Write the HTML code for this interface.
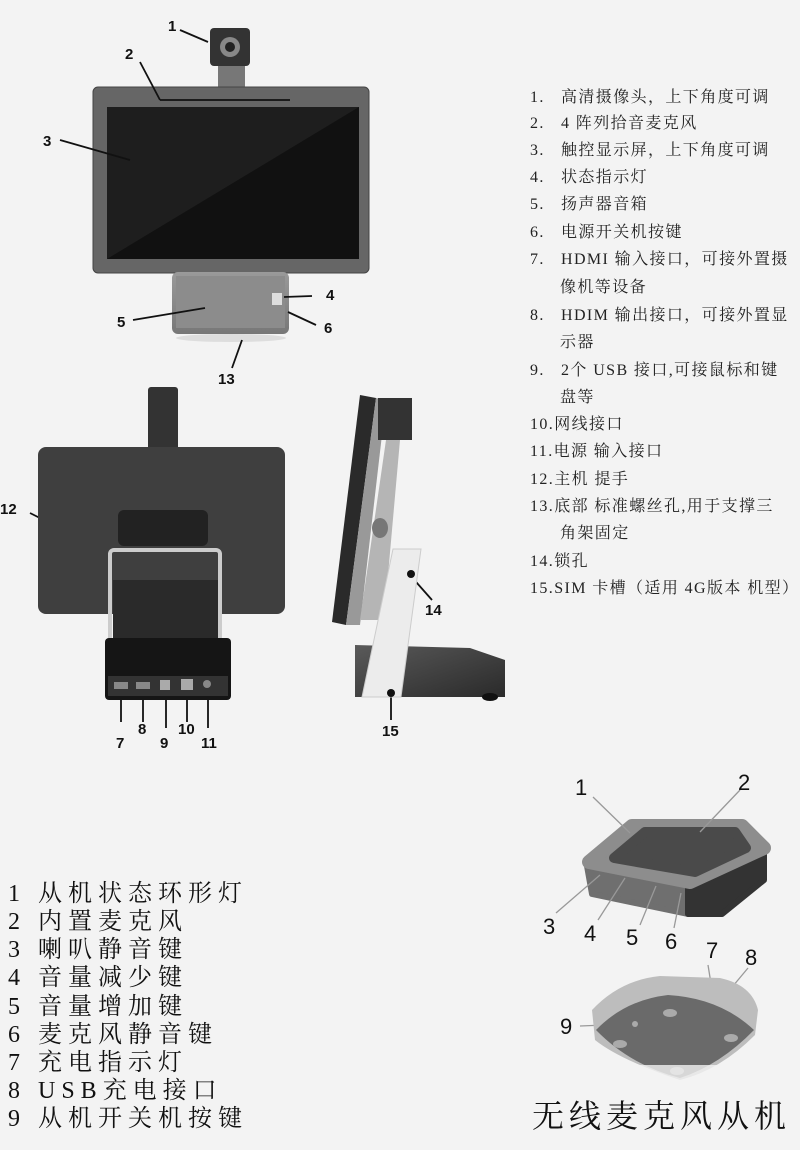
<!DOCTYPE html>
<html><head><meta charset="utf-8"><style>
body{margin:0;width:800px;height:1150px;background:#f3f3f3;position:relative;overflow:hidden}
.r{position:absolute;font-family:"Liberation Serif","Noto Serif CJK SC",serif;font-size:16px;letter-spacing:1.4px;color:#222;white-space:nowrap}
.l{position:absolute;left:8px;font-family:"Liberation Serif","Noto Serif CJK SC",serif;font-size:24px;color:#111;white-space:nowrap;letter-spacing:6px}
svg{position:absolute;left:0;top:0}
</style></head><body>
<svg width="800" height="1150" font-family="Liberation Sans,sans-serif">
<defs>
<linearGradient id="sp" x1="0" y1="0" x2="0" y2="1"><stop offset="0" stop-color="#9a9a9a"/><stop offset="1" stop-color="#777"/></linearGradient>
<linearGradient id="bk" x1="0" y1="0" x2="1" y2="1"><stop offset="0" stop-color="#5a5a5a"/><stop offset="1" stop-color="#2a2a2a"/></linearGradient>
</defs>
<rect x="218" y="60" width="27" height="30" fill="#777"/>
<rect x="210" y="28" width="40" height="38" rx="4" fill="#333"/>
<circle cx="230" cy="47" r="10" fill="#888"/><circle cx="230" cy="47" r="5" fill="#222"/>
<rect x="93" y="87" width="276" height="186" rx="5" fill="#666" stroke="#444"/>
<rect x="107" y="107" width="252" height="152" fill="#111"/>
<polygon points="107,107 359,107 107,259" fill="#1e1e1e"/>
<rect x="172" y="272" width="117" height="62" rx="6" fill="url(#sp)"/>
<rect x="176" y="276" width="109" height="52" fill="#8c8c8c"/>
<rect x="272" y="293" width="10" height="12" fill="#ddd"/>
<ellipse cx="231" cy="338" rx="55" ry="4" fill="#ddd"/>
<g stroke="#111" stroke-width="1.8" fill="none">
<line x1="180" y1="30" x2="208" y2="42"/>
<line x1="140" y1="62" x2="160" y2="100"/>
<line x1="160" y1="100" x2="290" y2="100"/>
<line x1="60" y1="140" x2="130" y2="160"/>
<line x1="133" y1="320" x2="205" y2="308"/>
<line x1="312" y1="296" x2="284" y2="297"/>
<line x1="316" y1="325" x2="288" y2="312"/>
<line x1="232" y1="368" x2="242" y2="340"/>
<line x1="30" y1="513" x2="117" y2="557"/>
<line x1="121" y1="698" x2="121" y2="722"/><line x1="143" y1="698" x2="143" y2="722"/>
<line x1="166" y1="698" x2="166" y2="728"/><line x1="187" y1="698" x2="187" y2="722"/><line x1="208" y1="698" x2="208" y2="728"/>
<line x1="409" y1="574" x2="432" y2="600"/>
<line x1="391" y1="692" x2="391" y2="720"/>
</g>
<g font-weight="bold" font-size="15" fill="#111">
<text x="168" y="31">1</text><text x="125" y="59">2</text><text x="43" y="146">3</text>
<text x="326" y="300">4</text><text x="117" y="327">5</text><text x="324" y="333">6</text><text x="218" y="384">13</text>
<text x="0" y="514">12</text>
<text x="116" y="748">7</text><text x="138" y="734">8</text><text x="160" y="748">9</text><text x="178" y="734">10</text><text x="201" y="748">11</text>
<text x="425" y="615">14</text><text x="382" y="736">15</text>
</g>
<rect x="148" y="387" width="30" height="85" rx="3" fill="#333"/>
<rect x="38" y="447" width="247" height="167" rx="8" fill="#3f3f3f"/>
<rect x="118" y="510" width="90" height="36" rx="6" fill="#222"/>
<rect x="110" y="550" width="110" height="135" rx="4" fill="none" stroke="#ccc" stroke-width="4"/>
<rect x="113" y="580" width="105" height="65" fill="#2a2a2a"/>
<rect x="105" y="638" width="126" height="62" rx="4" fill="#151515"/>
<rect x="108" y="676" width="120" height="20" fill="#333"/>
<rect x="114" y="682" width="14" height="7" fill="#888"/><rect x="136" y="682" width="14" height="7" fill="#888"/>
<rect x="160" y="680" width="10" height="10" fill="#aaa"/><rect x="181" y="679" width="12" height="11" fill="#aaa"/><circle cx="207" cy="684" r="4" fill="#888"/>
<polygon points="360,395 376,398 346,625 332,622" fill="#2a2a2a"/>
<polygon points="376,398 386,400 360,625 346,625" fill="#999"/>
<rect x="378" y="398" width="34" height="42" fill="#333"/>
<polygon points="386,440 400,440 384,620 360,620" fill="#b5b5b5"/>
<ellipse cx="380" cy="528" rx="8" ry="10" fill="#777"/>
<polygon points="355,645 470,648 505,660 505,697 355,697" fill="url(#bk)"/>
<polygon points="393,549 421,549 401,697 362,697" fill="#ececec" stroke="#ccc"/>
<circle cx="411" cy="574" r="4" fill="#111"/><circle cx="391" cy="693" r="4" fill="#111"/>
<ellipse cx="490" cy="697" rx="8" ry="4" fill="#111"/>
<g stroke-linejoin="round">
<polygon points="587,866 688,884 688,914 592,894" fill="#6f6f6f" stroke="#6f6f6f" stroke-width="6"/>
<polygon points="688,884 764,850 764,880 722,914 688,914" fill="#333" stroke="#333" stroke-width="6"/>
<polygon points="589,862 632,826 742,826 764,848 690,882" fill="#8d8d8d" stroke="#8d8d8d" stroke-width="14"/>
<polygon points="614,858 645,832 735,832 746,848 695,872" fill="#4a4a4a" stroke="#4a4a4a" stroke-width="10"/>
</g>
<g stroke="#999" stroke-width="1.3"><line x1="593" y1="797" x2="630" y2="833"/><line x1="740" y1="790" x2="700" y2="832"/>
<line x1="556" y1="913" x2="600" y2="875"/><line x1="598" y1="920" x2="625" y2="878"/><line x1="640" y1="925" x2="656" y2="886"/><line x1="674" y1="928" x2="681" y2="893"/>
<line x1="708" y1="965" x2="713" y2="996"/><line x1="748" y1="968" x2="723" y2="998"/><line x1="580" y1="1026" x2="630" y2="1024"/></g>
<g font-size="22" fill="#111"><text x="575" y="795">1</text><text x="738" y="790">2</text><text x="543" y="934">3</text><text x="584" y="941">4</text><text x="626" y="945">5</text><text x="665" y="949">6</text><text x="706" y="958">7</text><text x="745" y="965">8</text><text x="560" y="1034">9</text></g>
<path d="M592,1010 Q620,980 660,976 L720,978 Q752,985 758,1010 L755,1035 Q720,1070 680,1080 Q620,1060 595,1040Z" fill="#bdbdbd"/>
<path d="M596,1030 Q625,1000 668,995 Q720,998 754,1030 Q720,1065 680,1078 Q630,1065 596,1030Z" fill="#6a6a6a"/>
<g fill="#aaa"><ellipse cx="670" cy="1013" rx="7" ry="4"/><ellipse cx="620" cy="1044" rx="7" ry="4"/><ellipse cx="731" cy="1038" rx="7" ry="4"/><ellipse cx="677" cy="1071" rx="7" ry="4"/><circle cx="635" cy="1024" r="3"/></g>
<rect x="590" y="1065" width="170" height="18" fill="#f3f3f3" opacity=".8"/>
<text x="532" y="1127" font-family="Liberation Serif,Noto Serif CJK SC,serif" font-size="32" fill="#111" letter-spacing="5">无线麦克风从机</text>
</svg>
<div class="r" style="left:530px;top:84px">1.&nbsp;&nbsp; 高清摄像头，上下角度可调</div>
<div class="r" style="left:530px;top:110px">2.&nbsp;&nbsp; 4 阵列拾音麦克风</div>
<div class="r" style="left:530px;top:137px">3.&nbsp;&nbsp; 触控显示屏，上下角度可调</div>
<div class="r" style="left:530px;top:164px">4.&nbsp;&nbsp; 状态指示灯</div>
<div class="r" style="left:530px;top:191px">5.&nbsp;&nbsp; 扬声器音箱</div>
<div class="r" style="left:530px;top:219px">6.&nbsp;&nbsp; 电源开关机按键</div>
<div class="r" style="left:530px;top:246px">7.&nbsp;&nbsp; HDMI 输入接口，可接外置摄</div>
<div class="r" style="left:560px;top:274px">像机等设备</div>
<div class="r" style="left:530px;top:302px">8.&nbsp;&nbsp; HDIM 输出接口，可接外置显</div>
<div class="r" style="left:560px;top:329px">示器</div>
<div class="r" style="left:530px;top:357px">9.&nbsp;&nbsp; 2个 USB 接口,可接鼠标和键</div>
<div class="r" style="left:560px;top:384px">盘等</div>
<div class="r" style="left:530px;top:411px">10.网线接口</div>
<div class="r" style="left:530px;top:438px">11.电源 输入接口</div>
<div class="r" style="left:530px;top:466px">12.主机 提手</div>
<div class="r" style="left:530px;top:493px">13.底部 标准螺丝孔,用于支撑三</div>
<div class="r" style="left:560px;top:520px">角架固定</div>
<div class="r" style="left:530px;top:548px">14.锁孔</div>
<div class="r" style="left:530px;top:575px">15.SIM 卡槽（适用 4G版本 机型）</div>
<div class="l" style="top:873px">1 从机状态环形灯</div>
<div class="l" style="top:901px">2 内置麦克风</div>
<div class="l" style="top:929px">3 喇叭静音键</div>
<div class="l" style="top:957px">4 音量减少键</div>
<div class="l" style="top:986px">5 音量增加键</div>
<div class="l" style="top:1014px">6 麦克风静音键</div>
<div class="l" style="top:1042px">7 充电指示灯</div>
<div class="l" style="top:1070px">8 USB充电接口</div>
<div class="l" style="top:1098px">9 从机开关机按键</div>
</body></html>
